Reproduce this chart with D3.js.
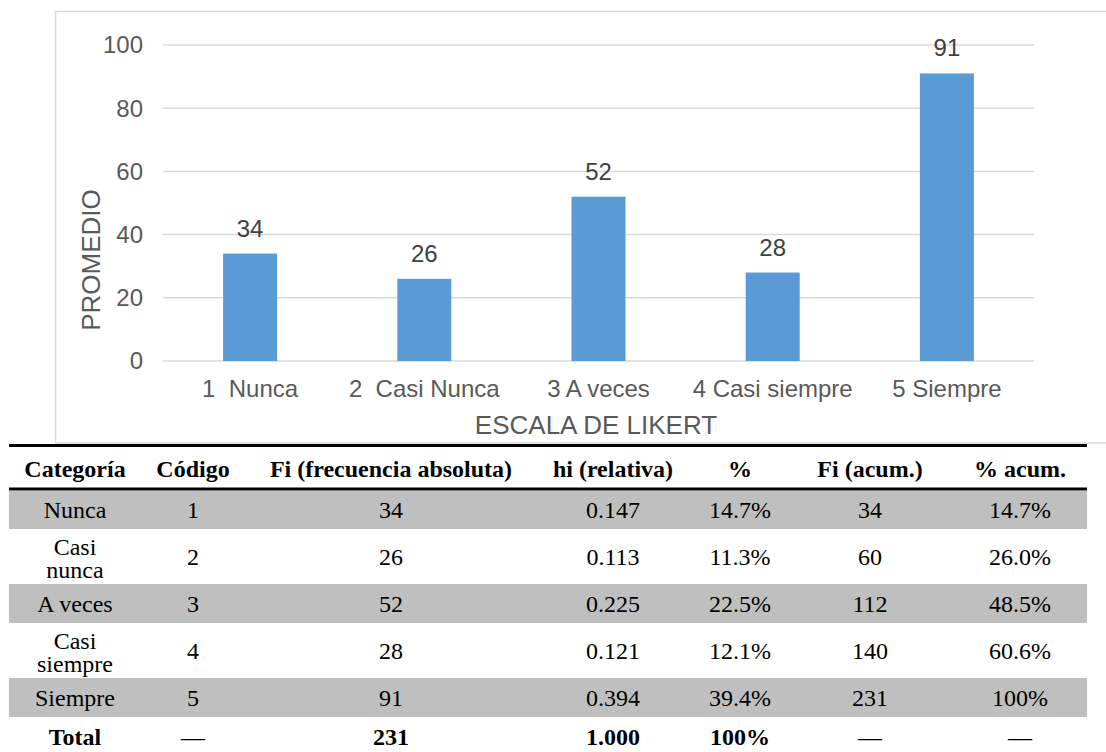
<!DOCTYPE html>
<html>
<head>
<meta charset="utf-8">
<script src="https://cdn.jsdelivr.net/npm/d3@7"></script>
<style>
  html, body { margin: 0; padding: 0; background: #ffffff; }
  svg { display: block; }
</style>
</head>
<body>
<svg id="chart" width="1106" height="752"></svg>
<script>
// ---- Chart data ----
const categories = ["1  Nunca", "2  Casi Nunca", "3 A veces", "4 Casi siempre", "5 Siempre"];
const values = [34, 26, 52, 28, 91];
const yTicks = [0, 20, 40, 60, 80, 100];
const yTitle = "PROMEDIO";
const xTitle = "ESCALA DE LIKERT";

// ---- Table data ----
const tableHeaders = ["Categoría", "Código", "Fi (frecuencia absoluta)", "hi (relativa)", "%", "Fi (acum.)", "% acum."];
const rowCategory = [["Nunca"], ["Casi", "nunca"], ["A veces"], ["Casi", "siempre"], ["Siempre"]];
const rowCode = ["1", "2", "3", "4", "5"];
const rowFi = ["34", "26", "52", "28", "91"];
const rowHi = ["0.147", "0.113", "0.225", "0.121", "0.394"];
const rowPct = ["14.7%", "11.3%", "22.5%", "12.1%", "39.4%"];
const rowFiAcum = ["34", "60", "112", "140", "231"];
const rowPctAcum = ["14.7%", "26.0%", "48.5%", "60.6%", "100%"];
const totalRow = ["Total", "—", "231", "1.000", "100%", "—", "—"];

const svg = d3.select("#chart");
const sans = "'Liberation Sans', Arial, sans-serif";
const serif = "'Liberation Serif', 'Times New Roman', serif";

// Chart frame
svg.append("rect")
  .attr("x", 55.5).attr("y", 11.5)
  .attr("width", 1120).attr("height", 431.5)
  .attr("fill", "#ffffff").attr("stroke", "#d9d9d9").attr("stroke-width", 1.5);

const x = d3.scaleBand().domain(categories).range([163, 1034]).paddingInner(0.69).paddingOuter(0.345);
const y = d3.scaleLinear().domain([0, 100]).range([361, 45]);

// Gridlines
svg.append("g").selectAll("line").data(yTicks).join("line")
  .attr("x1", 163).attr("x2", 1034)
  .attr("y1", d => y(d)).attr("y2", d => y(d))
  .attr("stroke", "#d9d9d9").attr("stroke-width", 1.5);

// Y tick labels
svg.append("g").selectAll("text").data(yTicks).join("text")
  .attr("x", 143).attr("y", d => y(d)).attr("dy", "0.35em")
  .attr("text-anchor", "end")
  .attr("font-family", sans).attr("font-size", 24).attr("fill", "#595959")
  .text(d => d);

// Bars
svg.append("g").selectAll("rect").data(values).join("rect")
  .attr("x", (d, i) => x(categories[i]))
  .attr("y", d => y(d))
  .attr("width", x.bandwidth())
  .attr("height", d => y(0) - y(d))
  .attr("fill", "#5b9bd5");

// Data labels
svg.append("g").selectAll("text").data(values).join("text")
  .attr("x", (d, i) => x(categories[i]) + x.bandwidth() / 2)
  .attr("y", d => y(d) - 17)
  .attr("text-anchor", "middle")
  .attr("font-family", sans).attr("font-size", 24).attr("fill", "#404040")
  .text(d => d);

// Category labels
svg.append("g").selectAll("text").data(categories).join("text")
  .attr("x", d => x(d) + x.bandwidth() / 2)
  .attr("y", 397)
  .attr("text-anchor", "middle")
  .attr("font-family", sans).attr("font-size", 24).attr("fill", "#595959")
  .style("white-space", "pre")
  .text(d => d);

// Axis titles
svg.append("text")
  .attr("x", 596).attr("y", 434)
  .attr("text-anchor", "middle")
  .attr("font-family", sans).attr("font-size", 26).attr("fill", "#595959")
  .text(xTitle);

svg.append("text")
  .attr("transform", "translate(100,260) rotate(-90)")
  .attr("text-anchor", "middle")
  .attr("font-family", sans).attr("font-size", 26).attr("fill", "#595959")
  .text(yTitle);

// ---- Table ----
const colX = [75, 193, 391, 613, 740, 870, 1020];
const tLeft = 9, tRight = 1087;
const rowTops = [491, 529, 584, 623, 678];
const rowHeights = [38, 55, 39, 55, 39];
const fs = 24;

// gray row bands
const tbl = svg.append("g");
tbl.selectAll("rect.band").data(rowTops).join("rect")
  .attr("class", "band")
  .attr("x", tLeft).attr("y", d => d)
  .attr("width", tRight - tLeft)
  .attr("height", (d, i) => rowHeights[i])
  .attr("fill", (d, i) => i % 2 === 0 ? "#bfbfbf" : "none");

// rules
tbl.append("line").attr("x1", tLeft).attr("x2", tRight).attr("y1", 445.5).attr("y2", 445.5)
  .attr("stroke", "#000").attr("stroke-width", 3);
tbl.append("line").attr("x1", tLeft).attr("x2", tRight).attr("y1", 489).attr("y2", 489)
  .attr("stroke", "#000").attr("stroke-width", 3);

// header
tbl.selectAll("text.hdr").data(tableHeaders).join("text")
  .attr("class", "hdr")
  .attr("x", (d, i) => colX[i]).attr("y", 477)
  .attr("text-anchor", "middle")
  .attr("font-family", serif).attr("font-size", fs).attr("font-weight", "bold").attr("fill", "#000")
  .text(d => d);

// body rows
const cols = [rowCode, rowFi, rowHi, rowPct, rowFiAcum, rowPctAcum];
rowCategory.forEach((lines, r) => {
  const cy = rowTops[r] + rowHeights[r] / 2;
  const base = cy + 8;
  if (lines.length === 1) {
    tbl.append("text").attr("x", colX[0]).attr("y", base)
      .attr("text-anchor", "middle").attr("font-family", serif).attr("font-size", fs).attr("fill", "#000")
      .text(lines[0]);
  } else {
    lines.forEach((ln, k) => {
      tbl.append("text").attr("x", colX[0]).attr("y", cy - 2 + k * 23.5)
        .attr("text-anchor", "middle").attr("font-family", serif).attr("font-size", fs).attr("fill", "#000")
        .text(ln);
    });
  }
  cols.forEach((col, c) => {
    tbl.append("text").attr("x", colX[c + 1]).attr("y", base)
      .attr("text-anchor", "middle").attr("font-family", serif).attr("font-size", fs).attr("fill", "#000")
      .text(col[r]);
  });
});

// total row
tbl.selectAll("text.tot").data(totalRow).join("text")
  .attr("class", "tot")
  .attr("x", (d, i) => colX[i]).attr("y", 745)
  .attr("text-anchor", "middle")
  .attr("font-family", serif).attr("font-size", fs)
  .attr("font-weight", d => d === "—" ? "normal" : "bold").attr("fill", "#000")
  .text(d => d);
</script>
</body>
</html>
